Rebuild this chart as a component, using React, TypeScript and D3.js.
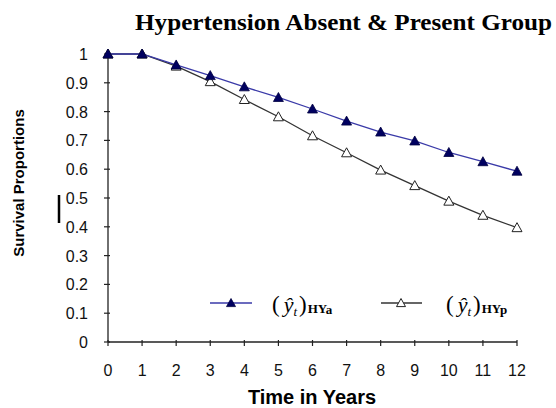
import React from "react";
import * as d3 from "d3";

const years = [0, 1, 2, 3, 4, 5, 6, 7, 8, 9, 10, 11, 12];
const hyAbsent = [1, 1, 0.962, 0.925, 0.886, 0.849, 0.809, 0.767, 0.729, 0.698, 0.658, 0.626, 0.593];
const hyPresent = [1, 1, 0.958, 0.904, 0.842, 0.782, 0.716, 0.657, 0.597, 0.543, 0.489, 0.44, 0.397];
const yTicks = [0, 0.1, 0.2, 0.3, 0.4, 0.5, 0.6, 0.7, 0.8, 0.9, 1];
const yTickLabels = ["0", "0.1", "0.2", "0.3", "0.4", "0.5", "0.6", "0.7", "0.8", "0.9", "1"];
const xTickLabels = ["0", "1", "2", "3", "4", "5", "6", "7", "8", "9", "10", "11", "12"];

const W = 556;
const H = 408;
const x = d3.scaleLinear().domain([0, 12]).range([108, 517]);
const y = d3.scaleLinear().domain([0, 1]).range([342, 54]);

const tri = (cx: number, cy: number, s = 5) =>
  `M${cx},${cy - s} L${cx + s},${cy + s * 0.8} L${cx - s},${cy + s * 0.8} Z`;

const lineGen = d3
  .line<number>()
  .x((_, i) => x(years[i]))
  .y((d) => y(d));

function LegendLabel({ x0, sub }: { x0: number; sub: string }) {
  return (
    <text x={x0} y={312} fontFamily="Liberation Serif, Times New Roman, serif" fill="#000">
      <tspan fontSize={23}>(</tspan>
      <tspan fontStyle="italic" fontSize={22} dx={4}>ŷ</tspan>
      <tspan fontStyle="italic" fontSize={13} dy={4}>t</tspan>
      <tspan fontSize={23} dy={-4} dx={2}>)</tspan>
      <tspan fontWeight="bold" fontSize={13} dy={1} dx={1}>HY</tspan>
      <tspan fontWeight="bold" fontSize={13} dy={1}>{sub}</tspan>
    </text>
  );
}

export default function App() {
  return (
    <svg
      width={W}
      height={H}
      style={{ position: "absolute", left: 0, top: 0, background: "#fff" }}
    >
      <rect width={W} height={H} fill="#fff" />
      {/* Title */}
      <text
        x={135}
        y={30}
        textLength={417}
        lengthAdjust="spacingAndGlyphs"
        fontFamily="Liberation Serif, Times New Roman, serif"
        fontWeight="bold"
        fontSize={24}
        fill="#000"
      >
        Hypertension Absent &amp; Present Group
      </text>

      {/* Axes */}
      <line x1={x(0)} x2={x(0)} y1={y(1)} y2={y(0)} stroke="#222" strokeWidth={1.3} />
      <line x1={x(0)} x2={x(12)} y1={y(0)} y2={y(0)} stroke="#222" strokeWidth={1.3} />
      {yTicks.map((t, i) => (
        <g key={"yt" + i}>
          <line x1={x(0) - 4} x2={x(0) + 2} y1={y(t)} y2={y(t)} stroke="#222" strokeWidth={1.2} />
          <text
            x={88}
            y={y(t) + 6}
            textAnchor="end"
            fontFamily="Liberation Sans, Arial, sans-serif"
            fontSize={16}
            fill="#111"
          >
            {yTickLabels[i]}
          </text>
        </g>
      ))}
      {years.map((v, i) => (
        <g key={"xt" + i}>
          <line x1={x(v)} x2={x(v)} y1={y(0) - 2} y2={y(0) + 4} stroke="#222" strokeWidth={1.2} />
          <text
            x={x(v)}
            y={376}
            textAnchor="middle"
            fontFamily="Liberation Sans, Arial, sans-serif"
            fontSize={16}
            fill="#111"
          >
            {xTickLabels[i]}
          </text>
        </g>
      ))}

      {/* Axis titles */}
      <text
        x={312}
        y={404}
        textAnchor="middle"
        fontFamily="Liberation Sans, Arial, sans-serif"
        fontWeight="bold"
        fontSize={20}
        fill="#000"
      >
        Time in Years
      </text>
      <text
        transform={`translate(24,183) rotate(-90)`}
        textAnchor="middle"
        fontFamily="Liberation Sans, Arial, sans-serif"
        fontWeight="bold"
        fontSize={15}
        fill="#000"
      >
        Survival Proportions
      </text>
      <line x1={59} x2={59} y1={195} y2={223} stroke="#000" strokeWidth={2.5} />

      {/* Series */}
      <path d={lineGen(hyPresent) || ""} fill="none" stroke="#333" strokeWidth={1.3} />
      <path d={lineGen(hyAbsent) || ""} fill="none" stroke="#3a3aa8" strokeWidth={1.3} />
      {hyPresent.map((v, i) => (
        <path key={"p" + i} d={tri(x(years[i]), y(v))} fill="#fff" stroke="#222" strokeWidth={1} />
      ))}
      {hyAbsent.map((v, i) => (
        <path key={"a" + i} d={tri(x(years[i]), y(v))} fill="#000060" stroke="#000040" strokeWidth={0.8} />
      ))}

      {/* Legend */}
      <line x1={210} x2={252} y1={303} y2={303} stroke="#3a3aa8" strokeWidth={1.3} />
      <path d={tri(231, 303, 4.5)} fill="#000060" stroke="#000040" strokeWidth={0.8} />
      <LegendLabel x0={272} sub="a" />
      <line x1={381} x2={422} y1={303} y2={303} stroke="#333" strokeWidth={1.3} />
      <path d={tri(401, 303, 4.5)} fill="#fff" stroke="#222" strokeWidth={1} />
      <LegendLabel x0={446} sub="p" />
    </svg>
  );
}
